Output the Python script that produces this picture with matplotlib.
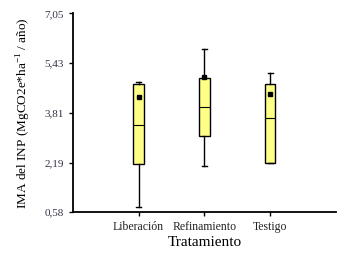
import matplotlib
matplotlib.use('Agg')
import matplotlib.pyplot as plt

# Data
grupos = ['Liberación', 'Refinamiento', 'Testigo']
whislo = [0.75, 2.09, 2.19]
q1 = [2.13, 3.06, 2.19]
med = [3.42, 4.01, 3.64]
q3 = [4.74, 4.95, 4.76]
whishi = [4.81, 5.89, 5.12]
medias = [4.32, 4.97, 4.42]

yticks = [0.58, 2.19, 3.81, 5.43, 7.05]
yticklabels = ['0,58', '2,19', '3,81', '5,43', '7,05']

plt.rcParams['font.family'] = 'Liberation Serif'
plt.rcParams['mathtext.fontset'] = 'custom'
plt.rcParams['mathtext.rm'] = 'Liberation Serif'

fig = plt.figure(figsize=(3.57, 2.60), dpi=100)
ax = fig.add_axes([0.2036, 0.1846, 0.7375, 0.7642])

stats = []
for i in range(len(grupos)):
    stats.append(dict(label=grupos[i], whislo=whislo[i], q1=q1[i], med=med[i],
                      q3=q3[i], whishi=whishi[i], mean=medias[i], fliers=[]))

ax.bxp(stats, positions=[1, 2, 3], widths=0.16, patch_artist=True,
       showmeans=True, showfliers=False,
       boxprops=dict(facecolor='#ffff88', edgecolor='black', linewidth=1.0),
       medianprops=dict(color='black', linewidth=0.8),
       whiskerprops=dict(color='black', linewidth=1.0),
       capprops=dict(color='black', linewidth=1.0),
       meanprops=dict(marker='s', markerfacecolor='black', markeredgecolor='black',
                      markersize=3))

ax.set_xlim(0, 4)
ax.set_ylim(0.58, 7.05)
ax.set_yticks(yticks)
ax.set_yticklabels(yticklabels, fontsize=8, color='#333344')
ax.set_xticks([1, 2, 3])
ax.set_xticklabels(grupos, fontsize=8.5, color='#222222')
ax.spines['top'].set_visible(False)
ax.spines['right'].set_visible(False)
ax.spines['left'].set_linewidth(1.3)
ax.spines['bottom'].set_linewidth(1.3)
ax.tick_params(direction='out', length=3, width=1)
ax.set_xlabel('Tratamiento', fontsize=11, labelpad=2)
ax.set_ylabel('IMA del INP (MgCO2e*ha$^{\\mathrm{-1}}$ / año)', fontsize=9.5, labelpad=8)

fig.savefig('out.png', dpi=100)
